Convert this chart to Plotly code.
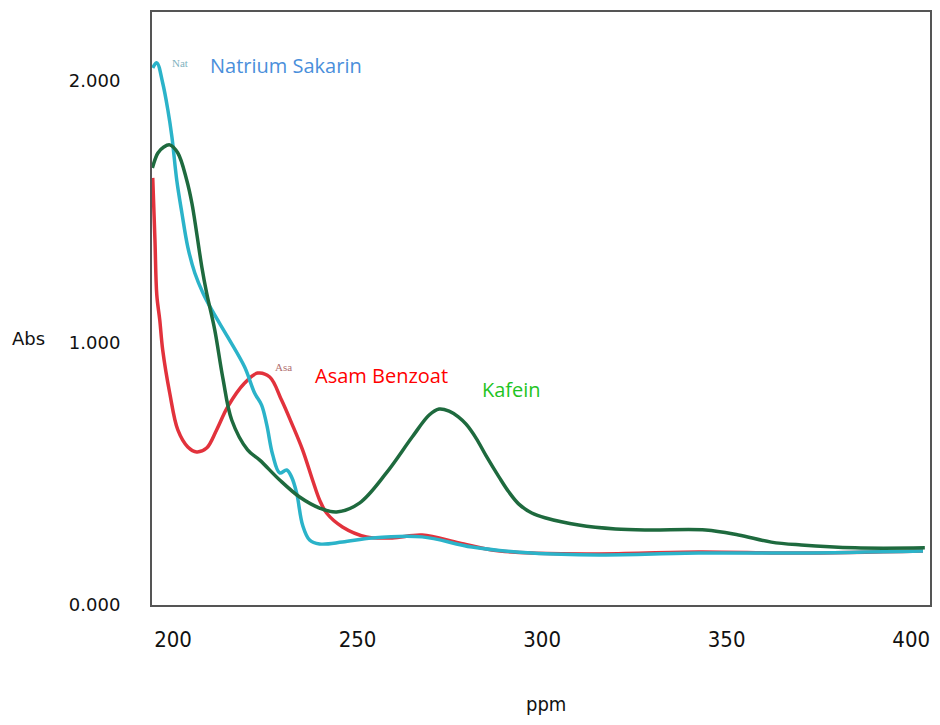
import plotly.graph_objects as go

# ---- data (wavelength on the x axis labelled "ppm", absorbance on y) ----
sakarin_x = [194.5, 195.6, 197.2, 198.6, 199.7, 201.0, 202.4, 204.0, 205.9, 208.1,
             210.5, 214.8, 219.4, 222.1, 224.0, 225.4, 227.0, 228.9, 230.8, 232.1,
             233.5, 235.1, 237.0, 239.7, 245.9, 254.0, 267.5, 281.0, 297.2, 315.4,
             342.4, 369.4, 403.2]
sakarin_y = [2.050, 2.069, 1.992, 1.889, 1.786, 1.622, 1.496, 1.366, 1.267, 1.191,
             1.126, 1.023, 0.908, 0.809, 0.763, 0.687, 0.573, 0.504, 0.515, 0.489,
             0.427, 0.305, 0.248, 0.233, 0.240, 0.256, 0.260, 0.221, 0.198, 0.191,
             0.198, 0.198, 0.206]

benzoat_x = [194.5, 195.1, 195.6, 196.4, 197.2, 199.1, 201.3, 204.0, 206.4, 209.1,
             211.8, 214.8, 219.4, 222.9, 226.2, 229.4, 232.1, 235.1, 237.8, 239.7,
             241.6, 245.9, 252.4, 259.4, 267.5, 277.5, 286.4, 297.2, 315.4, 342.4,
             369.4, 403.2]
benzoat_y = [1.630, 1.393, 1.183, 1.088, 0.973, 0.809, 0.668, 0.603, 0.584, 0.599,
             0.668, 0.756, 0.847, 0.885, 0.870, 0.782, 0.695, 0.592, 0.477, 0.401,
             0.351, 0.298, 0.260, 0.256, 0.267, 0.237, 0.210, 0.198, 0.195, 0.202,
             0.198, 0.206]

kafein_x = [194.4, 195.9, 197.5, 199.1, 201.3, 203.7, 205.1, 206.4, 207.8, 209.1,
            211.3, 213.5, 215.9, 220.2, 223.5, 228.9, 234.3, 239.7, 244.3, 250.5,
            257.8, 264.8, 269.4, 272.1, 274.8, 277.3, 279.4, 282.1, 284.8, 288.3,
            291.0, 293.7, 297.2, 301.0, 309.9, 319.9, 328.9, 344.3, 353.2, 362.1,
            370.2, 384.8, 403.7]
kafein_y = [1.668, 1.725, 1.748, 1.756, 1.725, 1.622, 1.534, 1.420, 1.290, 1.191,
            1.050, 0.866, 0.706, 0.592, 0.553, 0.477, 0.412, 0.370, 0.355, 0.389,
            0.504, 0.641, 0.725, 0.748, 0.740, 0.718, 0.690, 0.637, 0.570, 0.489,
            0.431, 0.385, 0.351, 0.332, 0.305, 0.290, 0.286, 0.286, 0.267, 0.240,
            0.229, 0.218, 0.218]

x_ticks = [200, 250, 300, 350, 400]
x_ticktext = ["200", "250", "300", "350", "400"]
y_ticks = [0, 1, 2]
y_ticktext = ["0.000", "1.000", "2.000"]

series_names = ["Asam Benzoat", "Natrium Sakarin", "Kafein"]
series_colors = ["#e2323c", "#2bb3c9", "#1e6a3e"]
label_colors = ["#ff0000", "#4a8fdb", "#1fc41f"]

fig = go.Figure()
for name, xs, ys, col in zip(series_names,
                             [benzoat_x, sakarin_x, kafein_x],
                             [benzoat_y, sakarin_y, kafein_y],
                             series_colors):
    fig.add_trace(go.Scatter(x=xs, y=ys, mode="lines", name=name,
                             line=dict(color=col, width=3.5, shape="spline", smoothing=1.0),
                             showlegend=False))

label_font = "Open Sans, DejaVu Sans, sans-serif"
fig.add_annotation(x=230.5, y=2.057, text="Natrium Sakarin", showarrow=False,
                   font=dict(family=label_font, size=20, color=label_colors[1]))
fig.add_annotation(x=256.4, y=0.874, text="Asam Benzoat", showarrow=False,
                   font=dict(family=label_font, size=20, color=label_colors[0]))
fig.add_annotation(x=291.6, y=0.821, text="Kafein", showarrow=False,
                   font=dict(family=label_font, size=20, color=label_colors[2]))
# small printed labels from the instrument trace
fig.add_annotation(x=201.8, y=2.069, text="Nat", showarrow=False,
                   font=dict(family="Liberation Serif, serif", size=11, color="#7fb3c0"))
fig.add_annotation(x=230.0, y=0.908, text="Asa", showarrow=False,
                   font=dict(family="Liberation Serif, serif", size=11, color="#b07070"))

fig.add_annotation(xref="paper", yref="paper", x=-0.159, y=0.45, text="Abs",
                   showarrow=False, xanchor="center", yanchor="middle",
                   font=dict(family="DejaVu Sans, sans-serif", size=18, color="#111"))
fig.add_annotation(xref="paper", yref="paper", x=0.506, y=-0.167, text="ppm",
                   showarrow=False, xanchor="center", yanchor="middle",
                   font=dict(family="DejaVu Sans Condensed, Liberation Sans Narrow, sans-serif",
                             size=20, color="#111"))

fig.update_xaxes(range=[194.3, 405.1], tickvals=x_ticks, ticktext=x_ticktext,
                 showgrid=False, zeroline=False, showline=True, mirror=True,
                 linecolor="#555", linewidth=2, ticks="", ticklabelstandoff=14,
                 tickfont=dict(family="DejaVu Sans Condensed, Liberation Sans Narrow, sans-serif",
                               size=22, color="#111"))
fig.update_yaxes(range=[0, 2.263], tickvals=y_ticks, ticktext=y_ticktext,
                 showgrid=False, zeroline=False, showline=True, mirror=True,
                 linecolor="#555", linewidth=2, ticks="", ticklabelstandoff=26,
                 tickfont=dict(family="DejaVu Sans, sans-serif", size=18, color="#111"))

fig.update_layout(width=924, height=709, paper_bgcolor="white", plot_bgcolor="white",
                  margin=dict(l=144, r=0, t=4, b=112))

fig.write_html("out.html")
